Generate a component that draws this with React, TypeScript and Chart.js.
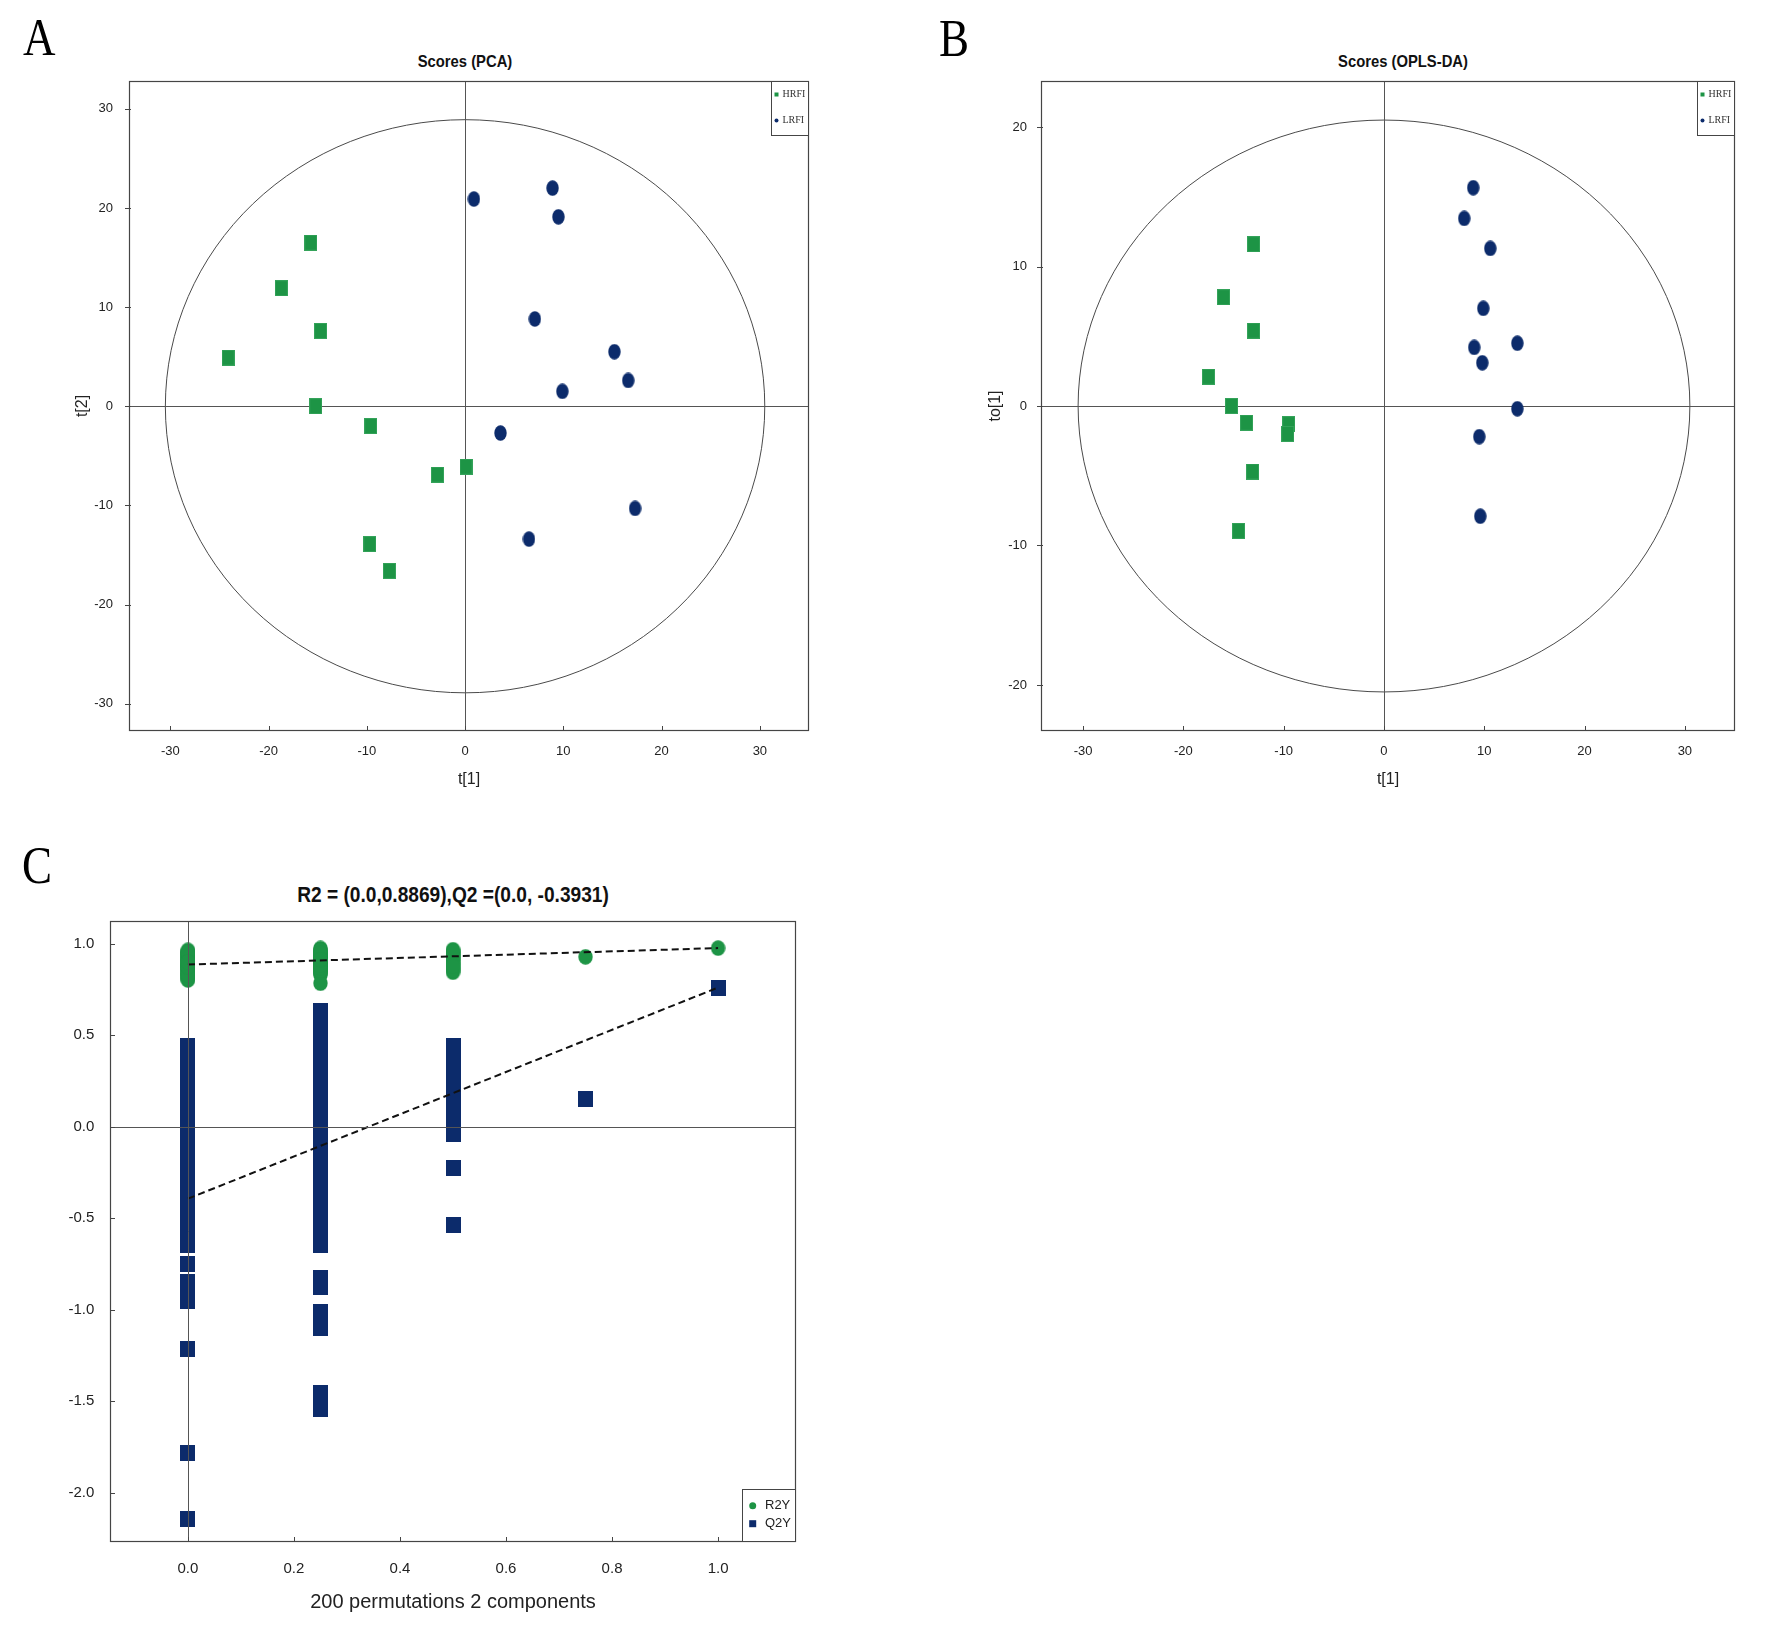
import React, { useEffect, useRef } from 'react';
import { Chart, registerables } from 'chart.js';

Chart.register(...registerables);

// ---------------- data ----------------
const PCA_HRFI_T1 = [-15.7, -18.7, -14.7, -24.1, -15.2, -9.6, 0.1, -2.8, -9.7, -7.7];
const PCA_HRFI_T2 = [16.5, 11.9, 7.6, 4.9, 0.0, -2.0, -6.1, -6.9, -13.9, -16.6];
const PCA_LRFI_T1 = [0.9, 8.9, 9.5, 7.1, 15.2, 16.6, 9.9, 3.6, 17.3, 6.5];
const PCA_LRFI_T2 = [20.9, 22.0, 19.1, 8.8, 5.5, 2.6, 1.5, -2.7, -10.3, -13.4];

const OPLS_HRFI_T1 = [-13.0, -16.0, -13.0, -17.5, -15.2, -13.7, -9.5, -9.6, -13.1, -14.5];
const OPLS_HRFI_TO1 = [11.6, 7.8, 5.4, 2.1, 0.0, -1.2, -1.3, -2.0, -4.7, -8.95];
const OPLS_LRFI_T1 = [8.9, 8.0, 10.6, 9.9, 13.3, 9.0, 9.8, 13.3, 9.5, 9.6];
const OPLS_LRFI_TO1 = [15.65, 13.45, 11.3, 7.0, 4.5, 4.2, 3.1, -0.2, -2.2, -7.9];

const GROUP_LABELS = ['HRFI', 'LRFI'];

const SCORE_T1_TICKS = [-30, -20, -10, 0, 10, 20, 30];
const PCA_T2_TICKS = [-30, -20, -10, 0, 10, 20, 30];
const OPLS_TO1_TICKS = [-20, -10, 0, 10, 20];
const PERM_X_TICKS = [0, 0.2, 0.4, 0.6, 0.8, 1.0];
const PERM_Y_TICKS = [-2.0, -1.5, -1.0, -0.5, 0, 0.5, 1.0];

// Hotelling T2 ellipse half-axes (t[1], t[2]/to[1])
const PCA_ELLIPSE = { rx: 30.5, ry: 28.9 };
const OPLS_ELLIPSE = { rx: 30.5, ry: 20.5 };

// Permutation test (correlation groups)
const PERM_GROUP_CORR = [0, 0.25, 0.5, 0.75];
const PERM_R2Y_BY_GROUP = [
  [0.965, 0.803, 0.921, 0.887, 0.948, 0.842, 0.905, 0.869, 0.931, 0.816, 0.957, 0.878, 0.833, 0.912, 0.851, 0.939,
    0.896, 0.824, 0.862, 0.944, 0.871, 0.809, 0.927, 0.884, 0.858, 0.916, 0.838, 0.952, 0.893, 0.829, 0.874, 0.901],
  [0.975, 0.842, 0.918, 0.889, 0.953, 0.861, 0.934, 0.903, 0.871, 0.946, 0.831, 0.912, 0.958, 0.878, 0.926, 0.852,
    0.897, 0.967, 0.838, 0.883, 0.941, 0.866, 0.909, 0.785, 0.929, 0.848, 0.893, 0.962, 0.874, 0.921, 0.857, 0.937,
    0.903, 0.869, 0.949, 0.884, 0.914],
  [0.968, 0.845, 0.931, 0.889, 0.952, 0.867, 0.912, 0.941, 0.856, 0.921, 0.898, 0.877, 0.958],
  [0.929],
];
const PERM_Q2Y_BY_GROUP = [
  [0.444, 0.398, 0.361, 0.305, 0.259, 0.226, 0.168, 0.121, 0.087, 0.029, -0.016, -0.058, -0.112, -0.149, -0.204, -0.243,
    -0.297, -0.336, -0.381, -0.427, -0.479, -0.518, -0.571, -0.606, -0.644, -0.752, -0.846, -0.897, -0.951, -1.217,
    -1.786, -2.145],
  [0.631, 0.586, 0.542, 0.497, 0.449, 0.404, 0.358, 0.313, 0.268, 0.221, 0.177, 0.132, 0.086, 0.041, -0.003, -0.049,
    -0.094, -0.139, -0.186, -0.229, -0.274, -0.321, -0.366, -0.409, -0.455, -0.501, -0.547, -0.592, -0.644, -0.826,
    -0.877, -1.014, -1.058, -1.101, -1.453, -1.498, -1.544],
  [0.444, 0.401, 0.356, 0.309, 0.262, 0.214, 0.168, 0.121, 0.076, 0.029, -0.038, -0.225, -0.538],
  [0.151],
];
const ORIGINAL_CORR = 1.0;
const ORIGINAL_R2Y = 0.977;
const ORIGINAL_Q2Y = 0.761;
const R2_INTERCEPT = 0.8869;
const Q2_INTERCEPT = -0.3931;
const PERM_TITLE = 'R2 = (0.0,0.8869),Q2 =(0.0, -0.3931)';
const PERM_X_TITLE = '200 permutations 2 components';

// ---------------- styles ----------------
const FONT = "'Liberation Sans', Arial, Helvetica, sans-serif";
const SERIF = "'Liberation Serif', 'Times New Roman', serif";
const GREEN = '#1d9445';
const GREEN_EDGE = '#34a35a';
const NAVY = '#0c2b6b';
const FRAME = '#454545';
const TEXT = '#222';

function markerRect(w: number, h: number, fill: string, edge?: string) {
  const c = document.createElement('canvas');
  c.width = w;
  c.height = h;
  const g = c.getContext('2d')!;
  g.fillStyle = fill;
  g.fillRect(0, 0, w, h);
  if (edge) {
    g.strokeStyle = edge;
    g.lineWidth = 1;
    g.strokeRect(0.5, 0.5, w - 1, h - 1);
  }
  return c;
}

function markerOval(w: number, h: number, fill: string) {
  const c = document.createElement('canvas');
  c.width = w;
  c.height = h;
  const g = c.getContext('2d')!;
  g.fillStyle = fill;
  g.beginPath();
  g.ellipse(w / 2, h / 2, w / 2 - 0.3, h / 2 - 0.3, 0, 0, Math.PI * 2);
  g.fill();
  return c;
}

function zeroLines(ctx: any, a: any, xs: any, ys: any, color: string) {
  const px = Math.round(xs.getPixelForValue(0)) + 0.5;
  const py = Math.round(ys.getPixelForValue(0)) + 0.5;
  ctx.strokeStyle = color;
  ctx.lineWidth = 1;
  ctx.setLineDash([]);
  ctx.beginPath();
  ctx.moveTo(a.left, py);
  ctx.lineTo(a.right, py);
  ctx.moveTo(px, a.top);
  ctx.lineTo(px, a.bottom);
  ctx.stroke();
}

const decorPlugin = {
  id: 'panelDecor',
  beforeDatasetsDraw(chart: any, _args: any, o: any) {
    const { ctx, chartArea: a } = chart;
    const xs = chart.scales.x;
    const ys = chart.scales.y;
    ctx.save();
    ctx.beginPath();
    ctx.rect(a.left, a.top, a.right - a.left, a.bottom - a.top);
    ctx.clip();
    if (o.ellipse) {
      const cx = xs.getPixelForValue(0);
      const cy = ys.getPixelForValue(0);
      const rx = xs.getPixelForValue(o.ellipse.rx) - cx;
      const ry = cy - ys.getPixelForValue(o.ellipse.ry);
      ctx.beginPath();
      ctx.ellipse(cx, cy, rx, ry, 0, 0, Math.PI * 2);
      ctx.strokeStyle = o.ellipseColor;
      ctx.lineWidth = 1;
      ctx.stroke();
    }
    if (!o.zeroOnTop) zeroLines(ctx, a, xs, ys, o.zeroColor);
    ctx.restore();
  },
  afterDatasetsDraw(chart: any, _args: any, o: any) {
    const { ctx, chartArea: a } = chart;
    const xs = chart.scales.x;
    const ys = chart.scales.y;
    ctx.save();
    ctx.setLineDash([]);
    if (o.zeroOnTop) zeroLines(ctx, a, xs, ys, o.zeroColor);

    // frame
    ctx.strokeStyle = FRAME;
    ctx.lineWidth = 1.2;
    ctx.strokeRect(a.left + 0.5, a.top + 0.5, a.right - a.left - 1, a.bottom - a.top - 1);

    // tick marks
    ctx.lineWidth = 1;
    ctx.beginPath();
    xs.ticks.forEach((t: any) => {
      const p = Math.round(xs.getPixelForValue(t.value)) + 0.5;
      ctx.moveTo(p, a.bottom + o.xTickOut);
      ctx.lineTo(p, a.bottom - o.xTickIn);
    });
    ys.ticks.forEach((t: any) => {
      const p = Math.round(ys.getPixelForValue(t.value)) + 0.5;
      ctx.moveTo(a.left - o.yTickOut, p);
      ctx.lineTo(a.left + o.yTickIn, p);
    });
    ctx.stroke();

    // legend box
    const L = o.legend;
    if (L) {
      const bx = a.right - L.w;
      const by = L.anchor === 'top' ? a.top : a.bottom - L.h;
      ctx.fillStyle = '#fff';
      ctx.fillRect(bx, by, L.w, L.h);
      ctx.strokeStyle = FRAME;
      ctx.lineWidth = 1;
      ctx.strokeRect(bx + 0.5, by + 0.5, L.w - 1, L.h - 1);
      const items = chart.data.datasets.filter((d: any) => d.legendMarker);
      items.forEach((d: any, i: number) => {
        const cy = by + L.firstY + i * L.gap;
        const mx = bx + L.markerX;
        ctx.fillStyle = d.legendColor;
        if (d.legendMarker === 'rect') {
          ctx.fillRect(mx - L.ms / 2, cy - L.ms / 2, L.ms, L.ms);
        } else {
          ctx.beginPath();
          ctx.arc(mx, cy, L.ms / 2, 0, Math.PI * 2);
          ctx.fill();
        }
        ctx.fillStyle = L.color;
        ctx.font = L.font;
        ctx.textAlign = 'left';
        ctx.textBaseline = 'middle';
        ctx.fillText(d.label, bx + L.textX, cy);
      });
    }
    ctx.restore();
  },
};

function linearAxis(o: {
  pos: 'left' | 'bottom';
  min: number;
  max: number;
  ticks: number[];
  size: number;
  pad: number;
  fontSize: number;
  fmt: (v: number) => string;
  title?: string;
  titleSize?: number;
  titlePad?: number;
}) {
  return {
    type: 'linear',
    position: o.pos,
    min: o.min,
    max: o.max,
    afterBuildTicks: (s: any) => {
      s.ticks = o.ticks.map((v) => ({ value: v }));
    },
    afterFit: (s: any) => {
      if (o.pos === 'left') s.width = o.size;
      else s.height = o.size;
      s.paddingTop = 0;
      s.paddingBottom = 0;
      s.paddingLeft = 0;
      s.paddingRight = 0;
    },
    grid: { display: false, drawTicks: false },
    border: { display: false },
    ticks: {
      autoSkip: false,
      maxRotation: 0,
      minRotation: 0,
      padding: o.pad,
      color: TEXT,
      font: { family: FONT, size: o.fontSize },
      callback: (v: any) => o.fmt(Number(v)),
    },
    title: o.title
      ? {
          display: true,
          text: o.title,
          color: TEXT,
          font: { family: FONT, size: o.titleSize },
          padding: o.pos === 'left' ? { top: o.titlePad, bottom: 0 } : { top: 0, bottom: o.titlePad },
        }
      : { display: false },
  };
}

const toPoints = (xs: number[], ys: number[]) => xs.map((x, i) => ({ x, y: ys[i] }));

function scoreConfig(p: {
  hx: number[];
  hy: number[];
  lx: number[];
  ly: number[];
  yTicks: number[];
  yMin: number;
  yMax: number;
  yTitle: string;
  yTitlePad: number;
  yTickPad: number;
  ellipse: { rx: number; ry: number };
}) {
  const sq = markerRect(13, 16, GREEN, GREEN_EDGE);
  const ov = markerOval(13, 16, NAVY);
  return {
    type: 'scatter',
    data: {
      datasets: [
        {
          label: GROUP_LABELS[0],
          data: toPoints(p.hx, p.hy),
          pointStyle: sq,
          pointRadius: 7,
          legendMarker: 'rect',
          legendColor: GREEN,
          order: 2,
        },
        {
          label: GROUP_LABELS[1],
          data: toPoints(p.lx, p.ly),
          pointStyle: ov,
          pointRadius: 7,
          legendMarker: 'circle',
          legendColor: NAVY,
          order: 1,
        },
      ],
    },
    options: {
      responsive: false,
      animation: false,
      events: [],
      layout: { padding: { left: 0, top: 10, right: 15, bottom: 0 } },
      plugins: {
        legend: { display: false },
        tooltip: { enabled: false },
        title: { display: false },
        panelDecor: {
          ellipse: p.ellipse,
          ellipseColor: '#4a4a4a',
          zeroColor: '#555',
          zeroOnTop: false,
          xTickOut: 0,
          xTickIn: 5,
          yTickOut: 4,
          yTickIn: 2,
          legend: {
            anchor: 'top',
            w: 38,
            h: 55,
            firstY: 13.5,
            gap: 26,
            markerX: 5.5,
            textX: 11.5,
            ms: 4,
            color: '#333',
            font: `10px ${SERIF}`,
          },
        },
      },
      scales: {
        x: linearAxis({
          pos: 'bottom',
          min: -34.2,
          max: 35.0,
          ticks: SCORE_T1_TICKS,
          size: 70,
          pad: 13,
          fontSize: 13,
          fmt: (v) => String(v),
          title: 't[1]',
          titleSize: 16,
          titlePad: 11.7,
        }),
        y: linearAxis({
          pos: 'left',
          min: p.yMin,
          max: p.yMax,
          ticks: p.yTicks,
          size: 89,
          pad: p.yTickPad,
          fontSize: 13,
          fmt: (v) => String(v),
          title: p.yTitle,
          titleSize: 16,
          titlePad: p.yTitlePad,
        }),
      },
    },
    plugins: [decorPlugin],
  };
}

function permConfig() {
  const gOv = markerOval(15, 16, GREEN);
  const nSq = markerRect(15, 16, NAVY);
  const r2Pts: { x: number; y: number }[] = [];
  const q2Pts: { x: number; y: number }[] = [];
  PERM_GROUP_CORR.forEach((c, gi) => {
    PERM_R2Y_BY_GROUP[gi].forEach((v) => r2Pts.push({ x: c, y: v }));
    PERM_Q2Y_BY_GROUP[gi].forEach((v) => q2Pts.push({ x: c, y: v }));
  });
  r2Pts.push({ x: ORIGINAL_CORR, y: ORIGINAL_R2Y });
  q2Pts.push({ x: ORIGINAL_CORR, y: ORIGINAL_Q2Y });
  const lineStyle = {
    showLine: true,
    borderColor: '#111',
    borderWidth: 2,
    borderDash: [7, 4],
    pointRadius: 0,
    pointHoverRadius: 0,
    order: 0,
  };
  return {
    type: 'scatter',
    data: {
      datasets: [
        {
          label: 'R2Y',
          data: r2Pts,
          pointStyle: gOv,
          pointRadius: 7,
          legendMarker: 'circle',
          legendColor: GREEN,
          order: 2,
        },
        {
          label: 'Q2Y',
          data: q2Pts,
          pointStyle: nSq,
          pointRadius: 7,
          legendMarker: 'rect',
          legendColor: NAVY,
          order: 1,
        },
        {
          label: 'R2 regression',
          data: [
            { x: 0, y: R2_INTERCEPT },
            { x: ORIGINAL_CORR, y: ORIGINAL_R2Y },
          ],
          ...lineStyle,
        },
        {
          label: 'Q2 regression',
          data: [
            { x: 0, y: Q2_INTERCEPT },
            { x: ORIGINAL_CORR, y: ORIGINAL_Q2Y },
          ],
          ...lineStyle,
        },
      ],
    },
    options: {
      responsive: false,
      animation: false,
      events: [],
      layout: { padding: { left: 0, top: 10, right: 15, bottom: 0 } },
      plugins: {
        legend: { display: false },
        tooltip: { enabled: false },
        title: { display: false },
        panelDecor: {
          ellipse: null,
          zeroColor: '#555',
          zeroOnTop: true,
          xTickOut: 0,
          xTickIn: 5,
          yTickOut: 0,
          yTickIn: 5,
          legend: {
            anchor: 'bottom',
            w: 54,
            h: 53,
            firstY: 16.7,
            gap: 18,
            markerX: 10.7,
            textX: 23,
            ms: 7,
            color: TEXT,
            font: `13px ${FONT}`,
          },
        },
      },
      scales: {
        x: linearAxis({
          pos: 'bottom',
          min: -0.147,
          max: 1.147,
          ticks: PERM_X_TICKS,
          size: 90,
          pad: 17.8,
          fontSize: 15,
          fmt: (v) => v.toFixed(1),
          title: PERM_X_TITLE,
          titleSize: 20,
          titlePad: 17.8,
        }),
        y: linearAxis({
          pos: 'left',
          min: -2.27,
          max: 1.125,
          ticks: PERM_Y_TICKS,
          size: 100,
          pad: 15.7,
          fontSize: 15,
          fmt: (v) => v.toFixed(1),
        }),
      },
    },
    plugins: [decorPlugin],
  };
}

function ChartCanvas(props: { left: number; top: number; width: number; height: number; build: () => any }) {
  const ref = useRef<HTMLCanvasElement>(null);
  useEffect(() => {
    const chart = new Chart(ref.current as HTMLCanvasElement, props.build());
    return () => chart.destroy();
  }, []);
  return (
    <canvas
      ref={ref}
      width={props.width}
      height={props.height}
      style={{ position: 'absolute', left: props.left, top: props.top, width: props.width, height: props.height }}
    />
  );
}

function PanelLetter(props: { text: string; left: number; top: number }) {
  return (
    <div
      style={{
        position: 'absolute',
        left: props.left,
        top: props.top,
        fontFamily: SERIF,
        fontSize: 53,
        lineHeight: '53px',
        color: '#000',
        transform: 'scaleX(0.85)',
        transformOrigin: 'left top',
        whiteSpace: 'nowrap',
      }}
    >
      {props.text}
    </div>
  );
}

function PanelTitle(props: { text: string; cx: number; cy: number; size: number }) {
  return (
    <div
      style={{
        position: 'absolute',
        left: props.cx,
        top: props.cy,
        fontFamily: FONT,
        fontWeight: 'bold',
        fontSize: props.size,
        lineHeight: 1,
        color: '#111',
        whiteSpace: 'nowrap',
        transform: 'translate(-50%, -50%) scaleX(0.87)',
      }}
    >
      {props.text}
    </div>
  );
}

export default function App() {
  return (
    <div
      style={{
        position: 'absolute',
        left: 0,
        top: 0,
        width: 1772,
        height: 1632,
        background: '#fff',
        overflow: 'hidden',
      }}
    >
      <PanelLetter text="A" left={23} top={11} />
      <PanelLetter text="B" left={939} top={11.5} />
      <PanelLetter text="C" left={22} top={839} />
      <PanelTitle text="Scores (PCA)" cx={465.2} cy={60.7} size={17} />
      <PanelTitle text="Scores (OPLS-DA)" cx={1403} cy={60.5} size={17} />
      <PanelTitle text={PERM_TITLE} cx={452.8} cy={895} size={22} />
      <ChartCanvas
        left={40}
        top={71}
        width={784}
        height={730}
        build={() =>
          scoreConfig({
            hx: PCA_HRFI_T1,
            hy: PCA_HRFI_T2,
            lx: PCA_LRFI_T1,
            ly: PCA_LRFI_T2,
            yTicks: PCA_T2_TICKS,
            yMin: -32.75,
            yMax: 32.8,
            yTitle: 't[2]',
            yTitlePad: 33.4,
            yTickPad: 16,
            ellipse: PCA_ELLIPSE,
          })
        }
      />
      <ChartCanvas
        left={952}
        top={71}
        width={798}
        height={730}
        build={() =>
          scoreConfig({
            hx: OPLS_HRFI_T1,
            hy: OPLS_HRFI_TO1,
            lx: OPLS_LRFI_T1,
            ly: OPLS_LRFI_TO1,
            yTicks: OPLS_TO1_TICKS,
            yMin: -23.3,
            yMax: 23.3,
            yTitle: 'to[1]',
            yTitlePad: 34.4,
            yTickPad: 14,
            ellipse: OPLS_ELLIPSE,
          })
        }
      />
      <ChartCanvas left={10} top={911} width={801} height={721} build={permConfig} />
    </div>
  );
}
